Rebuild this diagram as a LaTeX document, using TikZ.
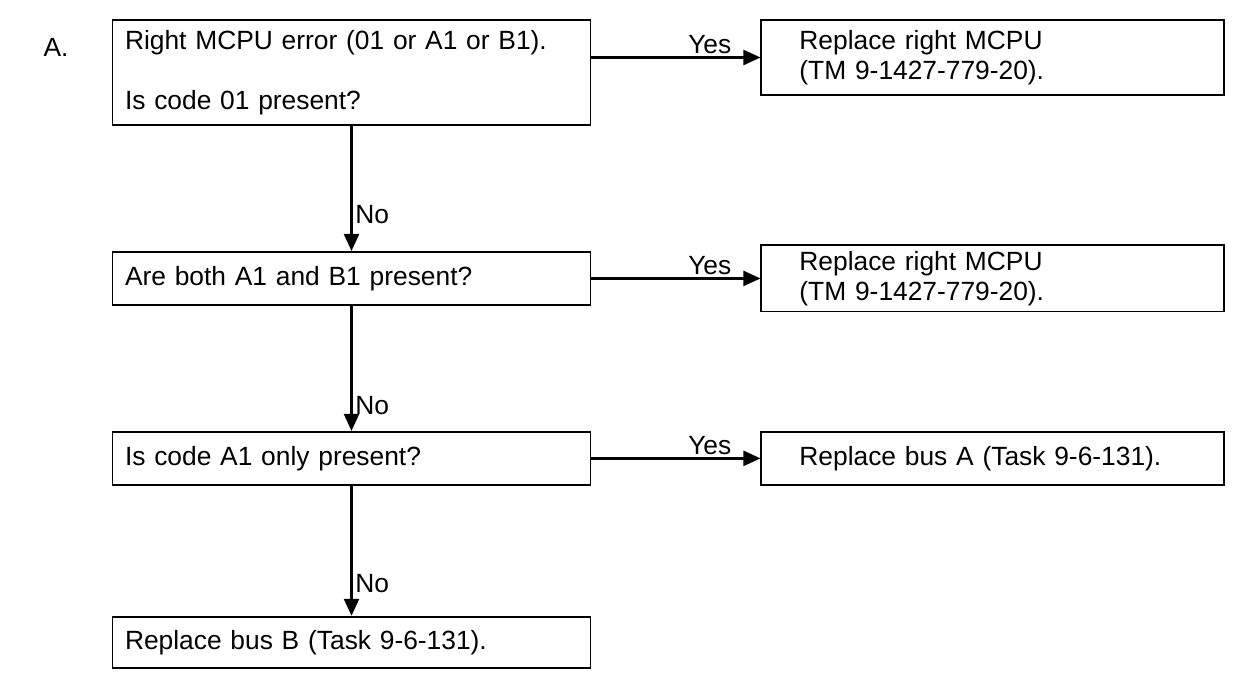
\documentclass[tikz,border=0pt]{standalone}
\usepackage{fontspec}
\setmainfont{Liberation Sans}
\usetikzlibrary{positioning,arrows.meta}

\begin{document}
\begin{tikzpicture}[
			node distance=2.4cm,
			qbox/.style={
				draw,
				line width=1.1pt,
				align=left,
				text width=9.06cm,
				inner xsep=0.25cm,
				minimum height=1.06cm,
				font=\fontsize{15}{17}\selectfont
			},
			abox/.style={qbox,text width=7.74cm,inner xsep=0.76cm},
			lbl/.style={font=\fontsize{15}{17}\selectfont,inner sep=1.5pt},
			arrow/.style={-{Triangle[length=0.34cm,width=0.3cm]},line width=1.3pt}
			]
			\useasboundingbox (0,0) rectangle (24.78,-13.56);
			
			\node[lbl] (tag) at (1.12,-0.95) {A.};
			\node[qbox,minimum height=2.1cm] (q1) at (7.03,-1.45) {Right MCPU error (01 or A1 or B1).\\[17pt]Is code 01 present?};
			\node[qbox,below=2.5cm of q1] (q2) {Are both A1 and B1 present?};
			\node[qbox,below=2.5cm of q2] (q3) {Is code A1 only present?};
			\node[qbox,minimum height=1.02cm,below=2.6cm of q3] (q4) {Replace bus B (Task 9-6-131).};
			
			\node[abox,minimum height=1.5cm,below right=0cm and 3.38cm of q1.north east] (r1) {Replace right MCPU\\(TM 9-1427-779-20).};
			\node[abox,minimum height=1.1cm,right=3.38cm of q2] (r2) {Replace right MCPU\\(TM 9-1427-779-20).};
			\node[abox,right=3.38cm of q3] (r3) {Replace bus A (Task 9-6-131).};
			
			\draw[arrow] (q1.east |- r1) -- node[lbl,pos=0.7,above] {Yes} (r1);
			\draw[arrow] (q2) -- node[lbl,pos=0.7,above] {Yes} (r2);
			\draw[arrow] (q3) -- node[lbl,pos=0.7,above] {Yes} (r3);
			
			\draw[arrow] (q1) -- node[lbl,pos=0.71,right] {No} (q2);
			\draw[arrow] (q2) -- node[lbl,pos=0.8,right] {No} (q3);
			\draw[arrow] (q3) -- node[lbl,pos=0.75,right] {No} (q4);
			
		\end{tikzpicture}
\end{document}
